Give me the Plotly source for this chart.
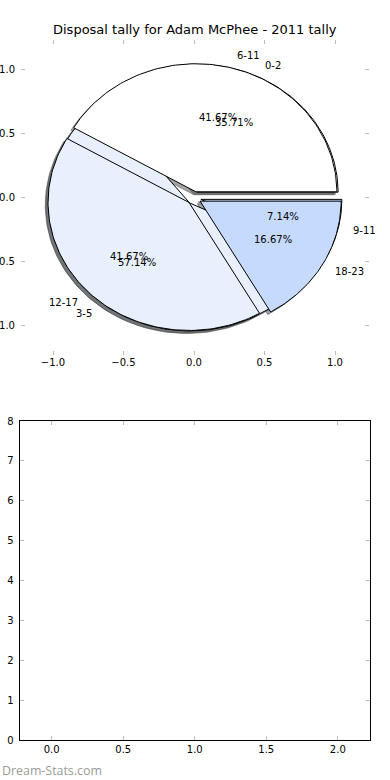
import numpy as np
import plotly.graph_objects as go

# ---- data ----
title_text = "Disposal tally for Adam McPhee - 2011 tally"
labels1 = ["0-2", "3-5", "9-11"]
values1 = [5, 8, 1]
labels2 = ["6-11", "12-17", "18-23"]
values2 = [5, 5, 2]
slice_colors = ["#ffffff", "#e9f0fd", "#c6dafd"]
explode = 0.05
bottom_x_ticks = [0.0, 0.5, 1.0, 1.5, 2.0]
bottom_y_ticks = [0, 1, 2, 3, 4, 5, 6, 7, 8]
pie_ticks = [-1.0, -0.5, 0.0, 0.5, 1.0]
watermark = "Dream-Stats.com"

FONT = "DejaVu Sans"


def wedges(values):
    vals = np.asarray(values, dtype=float)
    frac = vals / vals.sum()
    out = []
    t = 0.0
    for f in frac:
        t1, t2 = t, t + 360.0 * f
        mid = np.deg2rad((t1 + t2) / 2)
        cx, cy = explode * np.cos(mid), explode * np.sin(mid)
        th = np.deg2rad(np.linspace(t1, t2, 120))
        xs = np.concatenate([[cx], cx + np.cos(th), [cx]])
        ys = np.concatenate([[cy], cy + np.sin(th), [cy]])
        out.append(dict(xs=xs, ys=ys, cx=cx, cy=cy, mid=mid, frac=f))
        t = t2
    return out


def shade(hexcol):
    h = hexcol.lstrip("#")
    r, g, b = (int(h[i:i + 2], 16) for i in (0, 2, 4))
    return "rgba(%d,%d,%d,0.5)" % (r * 0.3, g * 0.3, b * 0.3)


w1 = wedges(values1)
w2 = wedges(values2)

fig = go.Figure()

# shadows
for ws in (w1, w2):
    for i, w in enumerate(ws):
        c = shade(slice_colors[i])
        fig.add_trace(go.Scatter(x=w["xs"] - 0.02, y=w["ys"] - 0.02, mode="lines",
                                 fill="toself", fillcolor=c, line=dict(color=c, width=1),
                                 hoverinfo="skip", showlegend=False, xaxis="x", yaxis="y"))
# wedges
for ws, labs in ((w1, labels1), (w2, labels2)):
    for i, w in enumerate(ws):
        fig.add_trace(go.Scatter(x=w["xs"], y=w["ys"], mode="lines", fill="toself",
                                 fillcolor=slice_colors[i], line=dict(color="black", width=1),
                                 name=labs[i], showlegend=False, xaxis="x", yaxis="y"))

annotations = []
for ws, labs in ((w1, labels1), (w2, labels2)):
    for i, w in enumerate(ws):
        lx = w["cx"] + 1.1 * np.cos(w["mid"])
        ly = w["cy"] + 1.1 * np.sin(w["mid"])
        annotations.append(dict(x=lx, y=ly, xref="x", yref="y", text=labs[i], showarrow=False,
                                xanchor="left" if lx > 0 else "right", yanchor="middle",
                                font=dict(family=FONT, size=10, color="black"), borderpad=0))
        px = w["cx"] + 0.6 * np.cos(w["mid"])
        py = w["cy"] + 0.6 * np.sin(w["mid"])
        annotations.append(dict(x=px, y=py, xref="x", yref="y", text="%.2f%%" % (100 * w["frac"]),
                                showarrow=False, xanchor="center", yanchor="middle",
                                font=dict(family=FONT, size=10, color="black"), borderpad=0))

annotations.append(dict(x=0.5, y=1 - 30 / 780, xref="paper", yref="paper", text=title_text,
                        showarrow=False, xanchor="center", yanchor="middle",
                        font=dict(family=FONT, size=13, color="black")))
annotations.append(dict(x=0, y=1 - 770 / 780, xref="paper", yref="paper", text=watermark,
                        showarrow=False, xanchor="left", yanchor="middle", xshift=0,
                        font=dict(family="Open Sans", size=12.4, color="#9a9a9a")))

# empty bottom axes trace
fig.add_trace(go.Scatter(x=[], y=[], xaxis="x2", yaxis="y2", showlegend=False))

tick_common = dict(ticks="inside", ticklen=4, tickwidth=1, tickcolor="#bbbbbb",
                   showgrid=False, zeroline=False, mirror="ticks", automargin=False,
                   tickfont=dict(family=FONT, size=10, color="black"))

fig.update_layout(
    width=390, height=780, margin=dict(l=0, r=0, t=0, b=0, pad=0),
    paper_bgcolor="white", plot_bgcolor="white", showlegend=False,
    annotations=annotations,
    xaxis=dict(domain=[21 / 390, 369 / 390], range=[-1.227, 1.241], anchor="y",
               tickvals=pie_ticks, tickformat=".1f", showline=False, **tick_common),
    yaxis=dict(domain=[1 - 355 / 780, 1 - 40 / 780], range=[-1.227, 1.234], anchor="x",
               tickvals=pie_ticks, tickformat=".1f", showline=False, ticklabelstandoff=5,
               **tick_common),
    xaxis2=dict(domain=[19.5 / 390, 370 / 390], range=[-0.225, 2.225], anchor="y2",
                tickvals=bottom_x_ticks, tickformat=".1f", showline=True, linecolor="black",
                linewidth=1, **tick_common),
    yaxis2=dict(domain=[1 - 740 / 780, 1 - 421 / 780], range=[0, 8], anchor="x2",
                tickvals=bottom_y_ticks, showline=True, linecolor="black", linewidth=1,
                ticklabelstandoff=3, **tick_common),
)

fig.write_html("out.html", config={"displayModeBar": False},
               post_script="document.body.style.margin='0px';")
